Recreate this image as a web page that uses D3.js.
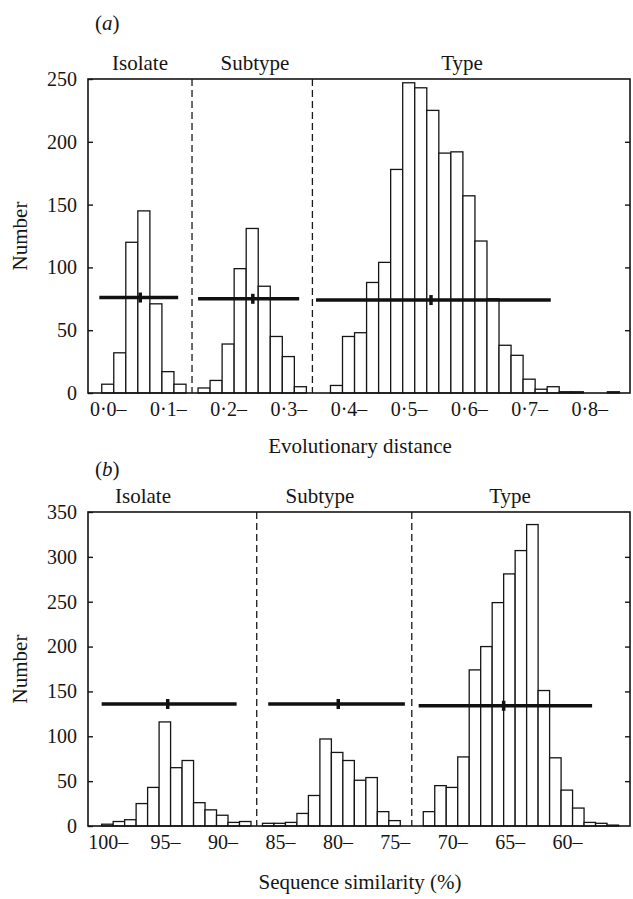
<!DOCTYPE html>
<html>
<head>
<meta charset="utf-8">
<script src="https://cdn.jsdelivr.net/npm/d3@7/dist/d3.min.js"></script>
<style>
  body { margin: 0; background: #fff; }
  svg text { font-family: "Liberation Serif", "DejaVu Serif", serif; fill: #151515; }
</style>
</head>
<body>
<svg id="chart" width="633" height="899"></svg>
<script>
// ---- panel (a): evolutionary distance, bins 0.02 wide (lower edge given)
const distIsolateBins  = [0.00, 0.02, 0.04, 0.06, 0.08, 0.10, 0.12];
const distIsolateCounts = [7, 32, 120, 145, 71, 17, 7];
const distSubtypeBins  = [0.16, 0.18, 0.20, 0.22, 0.24, 0.26, 0.28, 0.30, 0.32];
const distSubtypeCounts = [4, 10, 39, 99, 131, 85, 45, 29, 5];
const distTypeBins = [0.38, 0.40, 0.42, 0.44, 0.46, 0.48, 0.50, 0.52, 0.54, 0.56, 0.58, 0.60,
                      0.62, 0.64, 0.66, 0.68, 0.70, 0.72, 0.74, 0.76, 0.78, 0.80, 0.82, 0.84];
const distTypeCounts = [6, 45, 48, 88, 104, 178, 247, 243, 225, 191, 192, 157,
                        121, 75, 38, 30, 11, 3, 5, 1, 1, 0, 0, 1];
// range bars: low, high, mean, drawn at level
const distRanges = [
  {lo: -0.004, hi: 0.127, mean: 0.064, level: 76},
  {lo: 0.160, hi: 0.328, mean: 0.251, level: 75},
  {lo: 0.356, hi: 0.746, mean: 0.547, level: 74}
];
const distDividers = [0.15, 0.35];
const distTicks = [0, 0.1, 0.2, 0.3, 0.4, 0.5, 0.6, 0.7, 0.8];
const distYTicks = [0, 50, 100, 150, 200, 250];

// ---- panel (b): sequence similarity (%), bins 1% wide (upper edge given)
const simIsolateBins = [100, 99, 98, 97, 96, 95, 94, 93, 92, 91, 90, 89, 88];
const simIsolateCounts = [2, 5, 7, 25, 43, 116, 65, 73, 26, 18, 12, 4, 5];
const simSubtypeBins = [86, 85, 84, 83, 82, 81, 80, 79, 78, 77, 76, 75];
const simSubtypeCounts = [3, 3, 4, 14, 34, 97, 82, 73, 51, 54, 16, 6];
const simTypeBins = [72, 71, 70, 69, 68, 67, 66, 65, 64, 63, 62, 61, 60, 59, 58, 57, 56];
const simTypeCounts = [16, 45, 43, 77, 174, 200, 249, 281, 307, 336, 151, 76, 40, 20, 4, 3, 1];
const simRanges = [
  {lo: 100, hi: 88.25, mean: 94.25, level: 136},
  {lo: 85.5, hi: 73.6, mean: 79.4, level: 136},
  {lo: 72.4, hi: 57.3, mean: 65.0, level: 134}
];
const simDividers = [86.5, 73];
const simTicks = [100, 95, 90, 85, 80, 75, 70, 65, 60];
const simYTicks = [0, 50, 100, 150, 200, 250, 300, 350];

const groupNames = ['Isolate', 'Subtype', 'Type'];

const svg = d3.select('#chart');
const left = 88, right = 630;

function drawPanel(p) {
  const g = svg.append('g');
  const x = d3.scaleLinear().domain(p.xDomain).range([left, right]);
  const y = d3.scaleLinear().domain([0, p.yMax]).range([p.bottom, p.top]);

  // histogram bars
  p.groups.forEach(grp => {
    g.selectAll(null)
      .data(grp.bins.map((b, i) => ({b, c: grp.counts[i]})))
      .enter().append('rect')
        .attr('x', d => Math.min(x(d.b), x(d.b + p.binW)))
        .attr('width', d => Math.abs(x(d.b + p.binW) - x(d.b)))
        .attr('y', d => y(d.c))
        .attr('height', d => y(0) - y(d.c))
        .attr('fill', '#fff')
        .attr('stroke', '#151515')
        .attr('stroke-width', 1.3);
  });

  // dashed dividers
  g.selectAll(null).data(p.dividers).enter().append('line')
    .attr('x1', d => x(d)).attr('x2', d => x(d))
    .attr('y1', p.top).attr('y2', p.bottom)
    .attr('stroke', '#1a1a1a').attr('stroke-width', 1.3)
    .attr('stroke-dasharray', '7,4');

  // range bars with mean mark
  g.selectAll(null).data(p.ranges).enter().append('line')
    .attr('x1', d => x(d.lo)).attr('x2', d => x(d.hi))
    .attr('y1', d => y(d.level)).attr('y2', d => y(d.level))
    .attr('stroke', '#111').attr('stroke-width', 3.5);
  g.selectAll(null).data(p.ranges).enter().append('line')
    .attr('x1', d => x(d.mean)).attr('x2', d => x(d.mean))
    .attr('y1', d => y(d.level) - 5).attr('y2', d => y(d.level) + 5)
    .attr('stroke', '#111').attr('stroke-width', 3.5);

  // frame
  g.append('rect')
    .attr('x', left).attr('y', p.top)
    .attr('width', right - left).attr('height', p.bottom - p.top)
    .attr('fill', 'none').attr('stroke', '#151515').attr('stroke-width', 1.6);

  // y axes, ticks pointing in
  const yl = g.append('g').attr('transform', `translate(${left},0)`)
    .call(d3.axisLeft(y).tickValues(p.yTicks).tickSize(-5).tickPadding(11));
  yl.select('.domain').remove();
  yl.selectAll('text').style('font-size', '20px').attr('fill', '#151515');
  yl.selectAll('line').attr('stroke', '#151515').attr('stroke-width', 1.4);

  const yr = g.append('g').attr('transform', `translate(${right},0)`)
    .call(d3.axisRight(y).tickValues(p.yTicks.slice(1, -1)).tickSize(-5).tickFormat(''));
  yr.select('.domain').remove();
  yr.selectAll('line').attr('stroke', '#151515').attr('stroke-width', 1.4);

  // x axis labels ("0·1–" style), no tick marks
  const xa = g.append('g').attr('transform', `translate(0,${p.bottom})`)
    .call(d3.axisBottom(x).tickValues(p.xTicks).tickSize(0).tickPadding(9).tickFormat(p.fmt));
  xa.select('.domain').remove();
  xa.selectAll('text').style('font-size', '20px').attr('dx', 6).attr('fill', '#151515');

  // group labels
  g.selectAll(null).data(groupNames).enter().append('text')
    .attr('x', (d, i) => p.groupX[i]).attr('y', p.top - 9)
    .attr('text-anchor', 'middle').style('font-size', '21px')
    .text(d => d);

  // panel letter
  const lt = g.append('text').attr('x', 95).attr('y', p.letterY).style('font-size', '21px');
  lt.append('tspan').text('(');
  lt.append('tspan').style('font-style', 'italic').text(p.letter);
  lt.append('tspan').text(')');

  // axis titles
  g.append('text')
    .attr('transform', `translate(27,${(p.top + p.bottom) / 2}) rotate(-90)`)
    .attr('text-anchor', 'middle').style('font-size', '21px')
    .text('Number');
  g.append('text')
    .attr('x', 360).attr('y', p.titleY)
    .attr('text-anchor', 'middle').style('font-size', '21px')
    .text(p.title);
}

drawPanel({
  letter: 'a', letterY: 30,
  top: 79, bottom: 393, yMax: 250, yTicks: distYTicks,
  xDomain: [-0.0228, 0.8776], binW: 0.02,
  groups: [
    {bins: distIsolateBins, counts: distIsolateCounts},
    {bins: distSubtypeBins, counts: distSubtypeCounts},
    {bins: distTypeBins, counts: distTypeCounts}
  ],
  ranges: distRanges, dividers: distDividers,
  xTicks: distTicks, fmt: d => d3.format('.1f')(d).replace('.', '\u00b7') + '\u2013',
  groupX: [140, 255, 462],
  title: 'Evolutionary distance', titleY: 453
});

drawPanel({
  letter: 'b', letterY: 476,
  top: 512, bottom: 826, yMax: 350, yTicks: simYTicks,
  xDomain: [101.19, 54.0], binW: -1,
  groups: [
    {bins: simIsolateBins, counts: simIsolateCounts},
    {bins: simSubtypeBins, counts: simSubtypeCounts},
    {bins: simTypeBins, counts: simTypeCounts}
  ],
  ranges: simRanges, dividers: simDividers,
  xTicks: simTicks, fmt: d => d + '\u2013',
  groupX: [143, 320, 510],
  title: 'Sequence similarity (%)', titleY: 889
});
</script>
</body>
</html>
